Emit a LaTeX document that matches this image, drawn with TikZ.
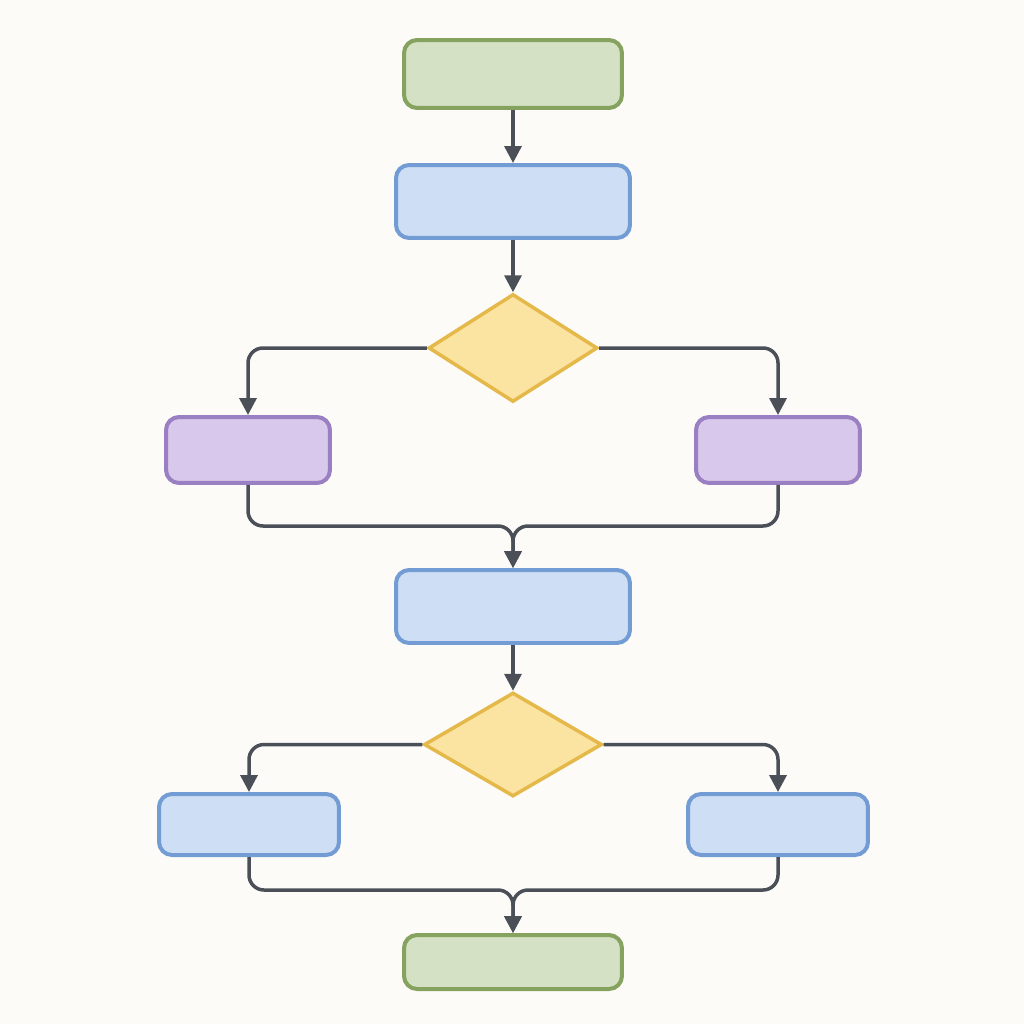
\documentclass[tikz,border=0pt]{standalone}
\usepackage{tikz}
\usetikzlibrary{arrows.meta, shapes.geometric}
\definecolor{paper}{HTML}{FCFBF7}
\definecolor{termfill}{HTML}{D5E1C5}
\definecolor{termline}{HTML}{85A35E}
\definecolor{procfill}{HTML}{CEDFF5}
\definecolor{procline}{HTML}{729CD3}
\definecolor{decfill}{HTML}{FBE4A2}
\definecolor{decline}{HTML}{E5B84A}
\definecolor{altfill}{HTML}{D8C8EB}
\definecolor{altline}{HTML}{9A80C2}
\definecolor{wire}{HTML}{4B5058}

\begin{document}
\begin{tikzpicture}[
		x=0.02cm, y=-0.02cm,
		box/.style={rectangle, draw, line width=0.08cm, rounded corners=0.26cm, inner sep=0pt},
		terminal/.style={box, fill=termfill, draw=termline, minimum width=4.36cm},
		process/.style={box, fill=procfill, draw=procline},
		branch/.style={box, fill=altfill, draw=altline, minimum width=3.28cm, minimum height=1.32cm},
		decision/.style={diamond, draw=decline, fill=decfill, line width=0.07cm, inner sep=0pt, line join=miter},
		arrow/.style={-{Triangle[length=0.34cm, width=0.34cm]}, line width=0.07cm, draw=wire, rounded corners=0.3cm}
	]
	\fill[paper] (0,0) rectangle (1024,1024);
	\useasboundingbox (0,0) rectangle (1024,1024);
	
	% top part
	\node[terminal, minimum height=1.36cm] (start) at (513,74) {};
	\node[process, minimum width=4.68cm, minimum height=1.46cm] (prep) at (513,201.5) {};
	\node[decision, minimum width=3.38cm, minimum height=2.16cm] (check) at (513,348) {};
	\node[branch] (left1) at (248,450) {};
	\node[branch] (right1) at (778,450) {};
	\coordinate (join1) at (513,526);
	
	% bottom part
	\node[process, minimum width=4.68cm, minimum height=1.46cm] (merge) at (513,606.5) {};
	\node[decision, minimum width=3.56cm, minimum height=2.08cm] (test) at (513,744.5) {};
	\node[process, minimum width=3.60cm, minimum height=1.22cm] (left2) at (249,824.5) {};
	\node[process, minimum width=3.60cm, minimum height=1.22cm] (right2) at (778,824.5) {};
	\coordinate (join2) at (513,890);
	\node[terminal, minimum height=1.08cm] (stop) at (513,962) {};
	
	\draw[arrow] (start) -- (prep);
	\draw[arrow] (prep) -- (check);
	\draw[arrow] (check.west) -| (left1.north);
	\draw[arrow] (check.east) -| (right1.north);
	\draw[arrow] (left1.south) |- (join1) -- (merge.north);
	\draw[arrow] (right1.south) |- (join1) -- (merge.north);
	
	\draw[arrow] (merge) -- (test);
	\draw[arrow] (test.west) -| (left2.north);
	\draw[arrow] (test.east) -| (right2.north);
	\draw[arrow] (left2.south) |- (join2) -- (stop.north);
	\draw[arrow] (right2.south) |- (join2) -- (stop.north);
\end{tikzpicture}
\end{document}
